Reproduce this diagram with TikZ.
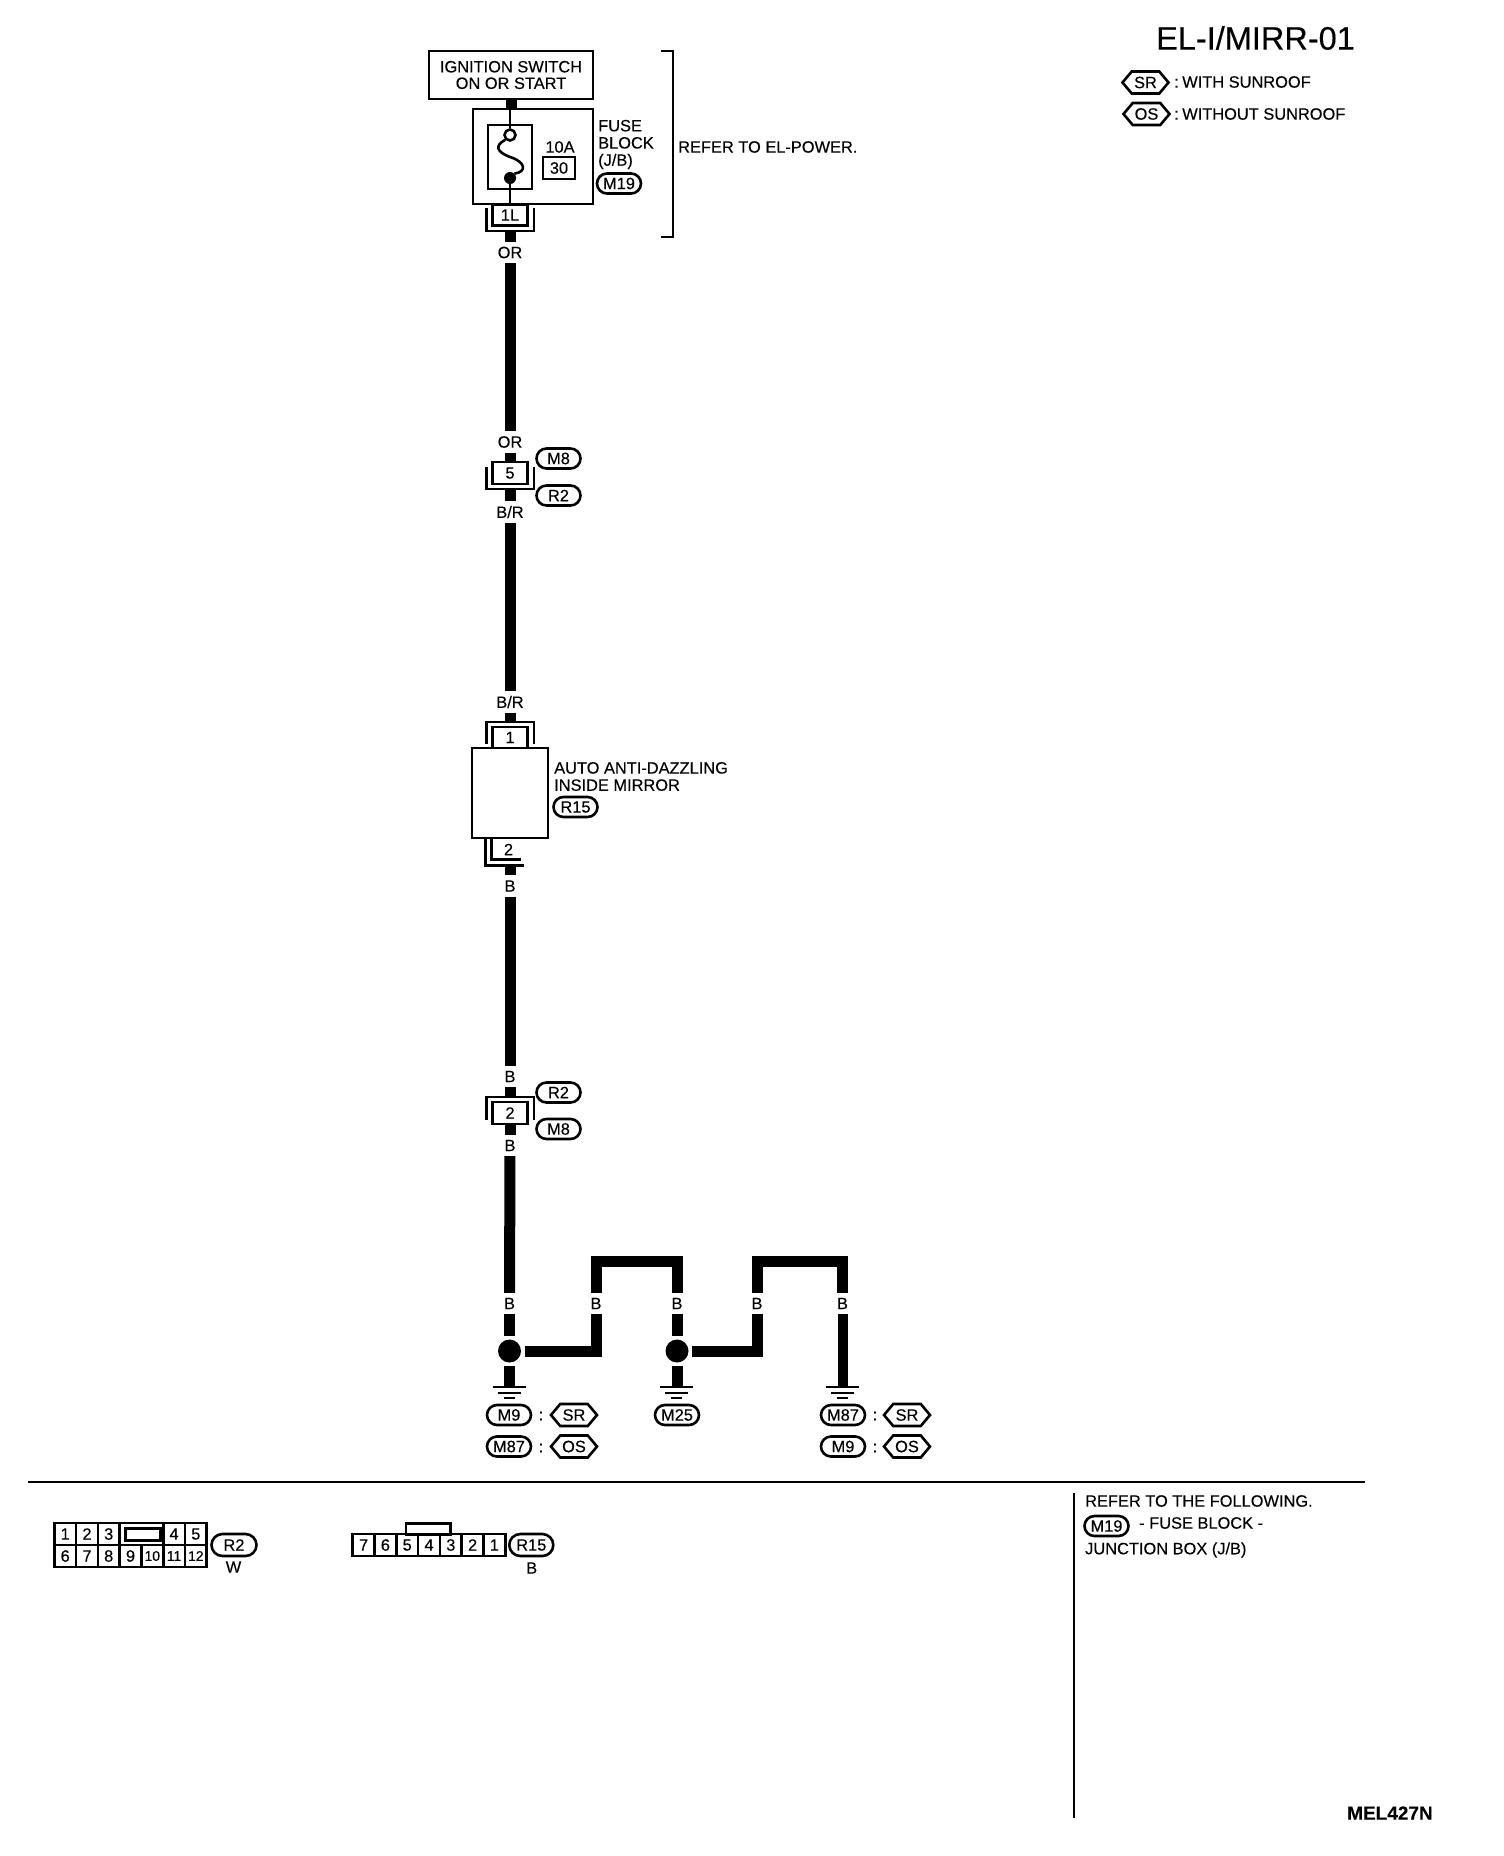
\documentclass[tikz,border=0pt]{standalone}
\usepackage{fontspec}
\setmainfont{Liberation Sans}[FakeBold=0.25]
\usetikzlibrary{shapes.misc, shapes.symbols}

\begin{document}
\begin{tikzpicture}[x=1pt, y=-1pt]
	\tikzset{every node/.style={inner sep=0, font=\fontsize{16.4}{17.2}\selectfont}};
	\tikzset{thk/.style={line width=2.6}};
	\tikzset{wire/.style={line width=11}};
	\tikzset{boxn/.style={rectangle, draw, thk}};
	\tikzset{pin/.style={boxn, minimum width=35, minimum height=21}};
	\tikzset{wlbl/.style={minimum height=21, minimum width=16}};
	\tikzset{pill/.style={rounded rectangle, draw, thk, minimum width=44, minimum height=20}};
	\tikzset{hexa/.style={signal, signal to=east and west, signal pointer angle=100, draw, thk, minimum width=46, minimum height=22}};
	\tikzset{cell/.style={boxn, minimum width=21.8, minimum height=22}};
	\tikzset{dot/.style={circle, fill=black, minimum size=23, outer sep=3.5}};
	\tikzset{small/.style={font=\fontsize{14}{14}\selectfont}};

	\useasboundingbox (0, 0) rectangle (1504, 1856);

	\node[font=\fontsize{32.5}{33}\selectfont] (title) at (1255.5, 38) {EL-I/MIRR-01};
	\node[hexa] (hsr) at (1145.5, 82.5) {SR};
	\node[anchor=west] (tsr) at (1174, 82) {:\hspace{3.5pt}WITH SUNROOF};
	\node[hexa] (hos) at (1146.5, 114) {OS};
	\node[anchor=west] (tos) at (1174, 114) {:\hspace{3.5pt}WITHOUT SUNROOF};

	\node[boxn, minimum width=164, minimum height=48, align=center, font=\fontsize{16.4}{16.5}\selectfont] (ign) at (511, 75) {IGNITION SWITCH\\ON OR START};
	\node[boxn, minimum width=120, minimum height=95] (fuse) at (533, 156.5) {};
	\node[boxn, minimum width=44, minimum height=64] (fbox) at (510, 157) {};
	\node[circle, draw, thk, minimum size=11] (ring) at (510, 135) {};
	\node[circle, fill=black, minimum size=12] (fdot) at (510, 178) {};
	\node (famp) at (560, 147) {10A};
	\node[boxn, minimum width=32, minimum height=22] (f30) at (559, 168) {30};
	\node[anchor=west, align=left] (flbl) at (598, 144.5) {FUSE\\BLOCK\\(J/B)};
	\node[pill] (m19) at (619, 183.5) {M19};
	\node[pin] (p1l) at (510, 215) {1L};
	\coordinate (u1) at (510, 231);
	\coordinate (brt) at (673, 51);
	\coordinate (brb) at (673, 237);
	\node[anchor=west] (refp) at (678, 147) {REFER TO EL-POWER.};

	\draw[wire] (ign) to (fuse.north -| ign);
	\draw[thk] (ring |- fuse.north) to (ring);
	\draw[thk] (ring.south west) .. controls (494, 146) and (497, 152) .. (510, 157) .. controls (526, 162) and (527, 172) .. (fdot.north east);
	\draw[thk] (fdot) to (fuse.south -| fdot);
	\draw[thk] ([shift={(-5, 5)}]p1l.north west) |- (u1) -| ([shift={(5, 5)}]p1l.north east);
	\draw[thk] (brt) ++(-12, 0) -- (brt) -- (brb) -- ++(-12, 0);

	\node[wlbl] (or1) at (510, 252.5) {OR};
	\node[wlbl] (or2) at (510, 442) {OR};
	\node[pin, minimum height=22] (p5) at (510, 473) {5};
	\coordinate (u5) at (510, 489);
	\node[pill] (m8a) at (558.5, 458.5) {M8};
	\node[pill] (r2a) at (558.5, 495.5) {R2};
	\node[wlbl] (br1) at (510, 512) {B/R};
	\node[wlbl] (br2) at (510, 702) {B/R};

	\draw[wire] (u1) to (or1);
	\draw[wire] (or1) to (or2);
	\draw[wire] (or2) to (p5);
	\draw[thk] ([shift={(-5, 6)}]p5.north west) |- (u5) -| ([shift={(5, 6)}]p5.north east);
	\draw[wire] (u5) to (br1);
	\draw[wire] (br1) to (br2);

	\coordinate (n1) at (510, 722);
	\node[pin] (p1) at (510, 737.5) {1};
	\node[boxn, minimum width=76, minimum height=90] (mir) at (510, 793) {};
	\node[anchor=west, align=left] (mlbl) at (554, 776.5) {AUTO ANTI-DAZZLING\\INSIDE MIRROR};
	\node[pill] (r15a) at (575.5, 807) {R15};
	\node (p2) at (508.5, 849.5) {2};
	\coordinate (u2) at (510, 864);
	\node[wlbl] (b1) at (510, 886) {B};
	\node[wlbl] (b2) at (510, 1076.5) {B};

	\draw[wire] (br2) to (n1);
	\draw[thk] ([shift={(-5, -5)}]p1.south west) |- (n1) -| ([shift={(5, -5)}]p1.south east);
	\draw[thk] ([xshift=21]mir.south west) -- ++(0, 20) -- ++(29, 0);
	\draw[thk] ([xshift=15]mir.south west) -- ++(0, 26) -- ++(38, 0);
	\draw[wire] (u2) to (b1);
	\draw[wire] (b1) to (b2);

	\coordinate (n2) at (510, 1097);
	\node[pin, minimum height=22] (p2b) at (510, 1113) {2};
	\node[pill] (r2b) at (558.5, 1092.5) {R2};
	\node[pill] (m8b) at (558.5, 1129) {M8};
	\node[wlbl] (b3) at (510, 1145.5) {B};
	\node[wlbl] (b4) at (509.5, 1303.5) {B};

	\draw[wire] (b2) to (n2);
	\draw[thk] ([shift={(-5, -5)}]p2b.south west) |- (n2) -| ([shift={(5, -5)}]p2b.south east);
	\draw[wire] (p2b) to (b3);
	\draw[wire] (b3) to (b4);

	\node[dot] (d1) at (509.5, 1351) {};
	\node[dot] (d2) at (677, 1351) {};
	\node[wlbl] (b5) at (596, 1303.5) {B};
	\node[wlbl] (b6) at (677, 1303.5) {B};
	\node[wlbl] (b7) at (757, 1303.5) {B};
	\node[wlbl] (b8) at (842.5, 1303.5) {B};
	\coordinate (t1) at (637, 1261.5);
	\coordinate (t2) at (800, 1261.5);
	\coordinate (g1) at (509.5, 1387);
	\coordinate (g2) at (677, 1387);
	\coordinate (g3) at (842.5, 1387);

	\draw[wire] (b4) to (d1);
	\draw[wire] (d1) -| (b5);
	\draw[wire] (b5) |- (t1) -| (b6);
	\draw[wire] (b6) to (d2);
	\draw[wire] (d2) -| (b7);
	\draw[wire] (b7) |- (t2) -| (b8);
	\draw[wire] (d1) to (g1);
	\draw[wire] (d2) to (g2);
	\draw[wire, line width=10] (b8) to (g3);

	\draw[thk] (g1) ++(-17, 0) -- ++(33, 0) ++(-28, 6) -- ++(23, 0) ++(-17, 5) -- ++(11, 0);
	\draw[thk] (g2) ++(-17, 0) -- ++(33, 0) ++(-28, 6) -- ++(23, 0) ++(-17, 5) -- ++(11, 0);
	\draw[thk] (g3) ++(-17, 0) -- ++(33, 0) ++(-28, 6) -- ++(23, 0) ++(-17, 5) -- ++(11, 0);

	\node[pill] (m9a) at (509, 1415) {M9};
	\node (c1) at (541, 1416) {:};
	\node[hexa] (sr1) at (574, 1415) {SR};
	\node[pill] (m87a) at (509, 1446.5) {M87};
	\node (c2) at (541, 1448) {:};
	\node[hexa] (os1) at (574, 1446.5) {OS};
	\node[pill] (m25) at (677, 1415) {M25};
	\node[pill] (m87b) at (843, 1415) {M87};
	\node (c3) at (875, 1416) {:};
	\node[hexa] (sr2) at (907, 1415) {SR};
	\node[pill] (m9b) at (843, 1446.5) {M9};
	\node (c4) at (875, 1448) {:};
	\node[hexa] (os2) at (907, 1446.5) {OS};

	\coordinate (sl) at (28, 1482);
	\coordinate (sr) at (1365, 1482);
	\coordinate (vt) at (1074, 1493);
	\coordinate (vb) at (1074, 1818);
	\draw[line width=2] (sl) to (sr);
	\draw[line width=2] (vt) to (vb);

	\node[cell] (a1) at (65.2, 1534) {1};
	\node[cell] (a2) at (87, 1534) {2};
	\node[cell] (a3) at (108.7, 1534) {3};
	\node[cell, minimum width=43.6] (as) at (141.4, 1534) {};
	\node[boxn, minimum width=35, minimum height=12] (ai) at (143, 1534.5) {};
	\node[cell] (a4) at (174, 1534) {4};
	\node[cell] (a5) at (195.8, 1534) {5};
	\node[cell] (a6) at (65.2, 1556) {6};
	\node[cell] (a7) at (87, 1556) {7};
	\node[cell] (a8) at (108.7, 1556) {8};
	\node[cell] (a9) at (130.5, 1556) {9};
	\node[cell, small] (a10) at (152.3, 1556) {10};
	\node[cell, small] (a11) at (174, 1556) {11};
	\node[cell, small] (a12) at (195.8, 1556) {12};
	\node[pill, minimum width=45, minimum height=22] (r2c) at (234, 1545) {R2};
	\node (w) at (233.5, 1567) {W};

	\node[boxn, minimum width=44.7, minimum height=11] (tab) at (428.3, 1528.7) {};
	\node[cell] (e7) at (363.6, 1545) {7};
	\node[cell] (e6) at (385.4, 1545) {6};
	\node[cell] (e5) at (407.2, 1545) {5};
	\node[cell] (e4) at (429, 1545) {4};
	\node[cell] (e3) at (450.8, 1545) {3};
	\node[cell] (e2) at (472.6, 1545) {2};
	\node[cell] (e1) at (494.4, 1545) {1};
	\node[pill, minimum width=44, minimum height=22] (r15b) at (531.3, 1545) {R15};
	\node (blk) at (531.7, 1568) {B};

	\node[anchor=west] (ref1) at (1085, 1501) {REFER TO THE FOLLOWING.};
	\node[pill] (m19b) at (1106.5, 1526) {M19};
	\node[anchor=west] (ref2) at (1139, 1523) {- FUSE BLOCK -};
	\node[anchor=west] (ref3) at (1085, 1550) {JUNCTION BOX (J/B)};
	\node[anchor=west, font=\fontsize{19}{19}\selectfont\bfseries] (code) at (1347, 1813) {MEL427N};
\end{tikzpicture}
\end{document}
